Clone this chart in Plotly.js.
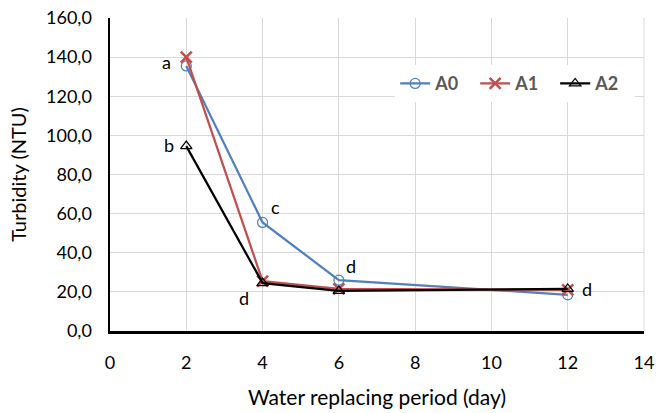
<!DOCTYPE html>
<html>
<head>
<meta charset="utf-8">
<script src="https://cdn.plot.ly/plotly-3.0.1.min.js"></script>
<style>html,body{margin:0;padding:0;background:#fff}#chart{width:656px;height:413px}</style>
</head>
<body>
<div id="chart"></div>
<script>
const days = [2, 4, 6, 12];
const A0 = [135.5, 55.5, 26.0, 18.5];
const A1 = [140.0, 25.5, 21.5, 21.0];
const A2 = [94.5, 24.5, 20.5, 21.5];
const letterText = ['a', 'b', 'c', 'd', 'd', 'd'];
const letterX = [2, 2, 4, 4, 6, 12];
const letterY = [137, 95, 56, 24.5, 26, 21];
const letterDX = [-20, -17, 13, -19, 12, 19];
const letterDY = [1, 0, 14, -15, 14, 1];

const font = 'Lato, "Open Sans", "Liberation Sans", sans-serif';

const traces = [
  {x: days, y: A0, name: 'A0', mode: 'lines+markers',
   line: {color: '#4f81bd', width: 2.25},
   marker: {symbol: 'circle-open', size: 10, color: '#4f81bd', line: {width: 1.25}}},
  {x: days, y: A1, name: 'A1', mode: 'lines+markers',
   line: {color: '#c0504d', width: 2.25},
   marker: {symbol: 'x-thin-open', size: 11, color: '#c0504d', line: {width: 2.5, color: '#c0504d'}}},
  {x: days, y: A2, name: 'A2', mode: 'lines+markers',
   line: {color: '#000000', width: 2.25},
   marker: {symbol: 'triangle-up-open', size: 10, color: '#000000', line: {width: 1.25}}}
];

const annotations = letterText.map((t, i) => ({
  x: letterX[i], y: letterY[i], text: t, showarrow: false,
  xshift: letterDX[i], yshift: letterDY[i],
  font: {family: font, size: 18, color: '#000'}
}));

const layout = {
  width: 656, height: 413,
  margin: {l: 110, r: 12, t: 18, b: 82, autoexpand: false},
  paper_bgcolor: '#fff', plot_bgcolor: '#fff',
  separators: ',.',
  font: {family: font, size: 18, color: '#000'},
  showlegend: true,
  legend: {orientation: 'h', x: 0.534, y: 0.849, xanchor: 'left', yanchor: 'top',
    bgcolor: '#ffffff', font: {family: font, size: 18, color: '#595959', weight: 'bold'},
    entrywidth: 35, tracegroupgap: 0},
  xaxis: {range: [0, 14], dtick: 2, tick0: 0, showgrid: true, gridcolor: '#d9d9d9', gridwidth: 1,
    showline: true, linecolor: '#000', linewidth: 2.5, zeroline: false, ticks: '',
    ticklabelstandoff: 14, mirror: false,
    title: {text: 'Water replacing period (day)', font: {family: font, size: 21, color: '#000'}, standoff: 18}},
  yaxis: {range: [0, 160], dtick: 20, tickformat: '.1f', showgrid: true, gridcolor: '#d9d9d9', gridwidth: 1,
    showline: true, linecolor: '#000', linewidth: 2.5, zeroline: false, ticks: '',
    ticklabelstandoff: 12,
    title: {text: 'Turbidity (NTU)', font: {family: font, size: 20, color: '#000'}, standoff: 14}},
  shapes: [
    {type: 'line', xref: 'paper', yref: 'paper', x0: 1, x1: 1, y0: 0, y1: 1, line: {color: '#d9d9d9', width: 1}}
  ],
  annotations: annotations
};

Plotly.newPlot('chart', traces, layout, {displayModeBar: false, staticPlot: true});
</script>
</body>
</html>
